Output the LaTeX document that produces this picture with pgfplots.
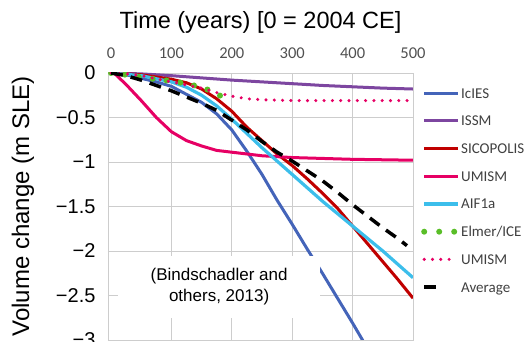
\documentclass[border=0pt]{standalone}
\usepackage{pgfplots}
\pgfplotsset{compat=1.18}
\usepackage{fontspec}
\setmainfont{Liberation Sans}
\newfontfamily\carlito{Carlito}
\definecolor{gridgray}{RGB}{205,205,205}
\definecolor{tickgray}{RGB}{80,80,80}
\definecolor{leggray}{RGB}{64,64,64}
\definecolor{ciblue}{RGB}{68,100,185}
\definecolor{cipurple}{RGB}{125,70,160}
\definecolor{cired}{RGB}{192,0,0}
\definecolor{cipink}{RGB}{230,0,100}
\definecolor{cicyan}{RGB}{60,190,235}
\definecolor{cigreen}{RGB}{90,190,40}
\pgfplotsset{
  legElmer/.style={legend image code/.code={\draw[##1, dash pattern=on 0pt off 15pt] (0pt,0pt) -- (31pt,0pt); \path (34pt,0pt);}},
  legDot/.style={legend image code/.code={\draw[##1] (0pt,0pt) -- (26pt,0pt); \path (34pt,0pt);}},
  legAvg/.style={legend image code/.code={\draw[##1] (0pt,0pt) -- (15pt,0pt); \path (34pt,0pt);}},
}
\begin{document}
\begin{tikzpicture}
\begin{axis}[
  width=305pt, height=267pt, scale only axis,
  xmin=-5, xmax=500, ymin=-3, ymax=0,
  axis line style={draw=gridgray, line width=0.8pt},
  major tick length=0pt,
  xtick={0,100,200,300,400,500},
  xticklabels={0,100,200,300,400,500},
  xticklabel pos=upper,
  xticklabel style={font=\carlito\fontsize{16.5}{16.5}\selectfont, text=tickgray, yshift=11pt},
  extra x ticks={100,200,300,400},
  extra x tick labels={},
  extra x tick style={grid=major},
  ytick={-3,-2.5,-2,-1.5,-1,-0.5,0},
  yticklabels={−3,−2.5,−2,−1.5,−1,−0.5,0},
  yticklabel style={font=\fontsize{20}{20}\selectfont, xshift=-9pt},
  ymajorgrids,
  grid style={draw=gridgray, line width=0.8pt},
  legend cell align=left,
  legend image code/.code={\draw[#1] (0pt,0pt) -- (34pt,0pt); \path (34pt,0pt);},
  legend style={at={(1,1)}, anchor=north west, xshift=8pt, yshift=-15pt,
    draw=none, fill=none, inner sep=0pt, row sep=17.7pt,
    font=\carlito\fontsize{15}{15}\selectfont, text=leggray,
    nodes={inner sep=0pt, text height=10pt, text depth=0pt}},
]
\addplot[ciblue, line width=3pt] coordinates {
(0,0) (25,-0.02) (50,-0.06) (75,-0.10) (100,-0.15) (125,-0.24) (150,-0.33) (175,-0.46)
(200,-0.64) (225,-0.88) (250,-1.14) (275,-1.43) (300,-1.70) (325,-1.98) (350,-2.25)
(375,-2.53) (400,-2.81) (425,-3.10)};
\addlegendentry{IcIES}
\addplot[cipurple, line width=3pt] coordinates {
(0,0) (50,-0.01) (100,-0.03) (150,-0.055) (200,-0.08) (250,-0.10) (300,-0.12)
(350,-0.14) (400,-0.155) (450,-0.17) (500,-0.18)};
\addlegendentry{ISSM}
\addplot[cired, line width=3pt] coordinates {
(0,0) (50,-0.02) (100,-0.07) (125,-0.11) (150,-0.18) (175,-0.29) (200,-0.43)
(225,-0.61) (250,-0.76) (275,-0.91) (300,-1.04) (325,-1.19) (350,-1.35) (375,-1.52)
(400,-1.72) (425,-1.92) (450,-2.12) (475,-2.32) (500,-2.53)};
\addlegendentry{SICOPOLIS}
\addplot[cipink, line width=3pt] coordinates {
(0,0) (5,0) (25,-0.13) (50,-0.31) (75,-0.50) (100,-0.66) (125,-0.76) (150,-0.82)
(175,-0.87) (200,-0.89) (250,-0.93) (300,-0.95) (400,-0.97) (500,-0.98)};
\addlegendentry{UMISM}
\addplot[cicyan, line width=3.2pt] coordinates {
(0,0) (50,-0.03) (100,-0.10) (125,-0.16) (150,-0.25) (175,-0.37) (200,-0.52)
(225,-0.68) (250,-0.84) (275,-0.99) (300,-1.14) (325,-1.29) (350,-1.44) (375,-1.58)
(400,-1.72) (425,-1.86) (450,-2.00) (475,-2.15) (500,-2.30)};
\addlegendentry{AIF1a}
\addplot[cigreen, line width=6pt, line cap=round, dash pattern=on 0pt off 14pt, legElmer] coordinates {
(0,0) (25,-0.02) (50,-0.05) (75,-0.07) (100,-0.09) (125,-0.12) (150,-0.16) (165,-0.20) (185,-0.27)};
\addlegendentry{Elmer/ICE}
\addplot[cipink, line width=3.4pt, line cap=round, dash pattern=on 0pt off 8.3pt, legDot] coordinates {
(0,0) (25,-0.01) (50,-0.03) (75,-0.065) (100,-0.10) (125,-0.135) (150,-0.17) (175,-0.22)
(200,-0.26) (225,-0.29) (250,-0.30) (300,-0.31) (500,-0.31)};
\addlegendentry{UMISM}
\addplot[black, line width=3.5pt, dash pattern=on 12pt off 8pt, legAvg] coordinates {
(0,0) (25,-0.03) (50,-0.08) (75,-0.14) (100,-0.20) (125,-0.27) (150,-0.34) (175,-0.42)
(200,-0.53) (225,-0.64) (250,-0.77) (275,-0.89) (300,-0.99) (325,-1.10) (350,-1.21)
(375,-1.34) (400,-1.48) (425,-1.61) (450,-1.74) (475,-1.86) (490,-1.94)};
\addlegendentry{Average}
\node[fill=white, inner sep=0pt, minimum width=202pt, minimum height=62pt, align=center,
  font=\fontsize{17}{21}\selectfont] at (axis cs:179,-2.40) {(Bindschadler and\\others, 2013)};
\end{axis}
\node[font=\fontsize{23.5}{23.5}\selectfont] at ([yshift=51pt]current axis.north) {Time (years) [0 = 2004 CE]};
\node[rotate=90, font=\fontsize{24}{24}\selectfont] at ([xshift=-85pt]current axis.west) {Volume change (m SLE)};
\pgfresetboundingbox
\path[use as bounding box] ([shift={(-108pt,73pt)}]current axis.north west) rectangle ([shift={(118pt,-2pt)}]current axis.south east);
\end{tikzpicture}
\end{document}
